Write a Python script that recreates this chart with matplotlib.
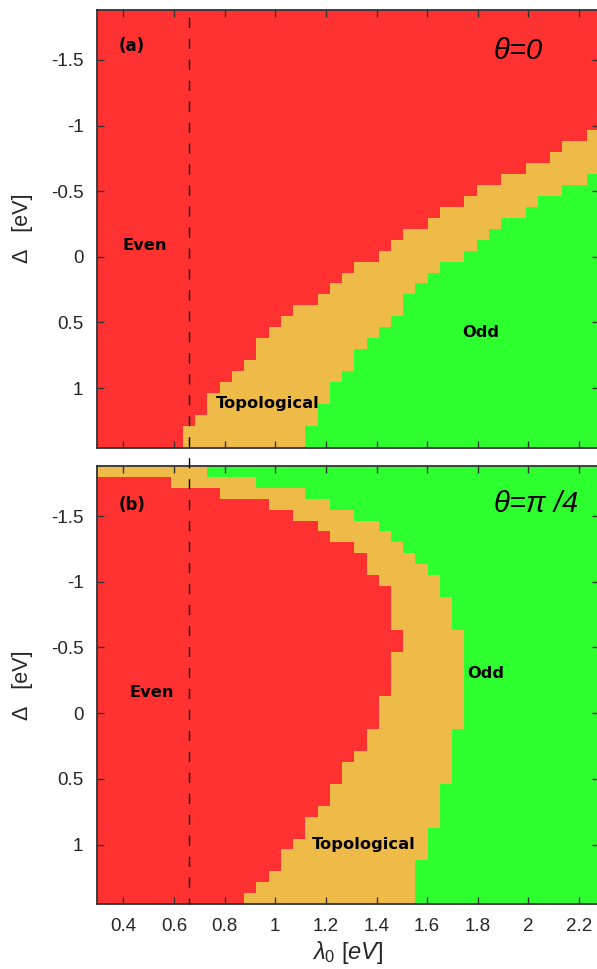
import numpy as np
import matplotlib
matplotlib.use("Agg")
import matplotlib.pyplot as plt
from matplotlib.colors import ListedColormap, BoundaryNorm
from matplotlib.lines import Line2D

# ---- grid of the phase scan ----
lam_edges = np.linspace(0.297, 2.279, 42)      # lambda_0 cell edges [eV], 41 columns
delta_edges = np.linspace(-1.883, 1.454, 41)   # Delta cell edges [eV], 40 rows

# For every Delta row (top to bottom): first lambda column of the topological
# phase and first column of the odd phase (41 = phase not reached).
topo_start_a = [41, 41, 41, 41, 41, 41, 41, 41, 41, 41,
                41, 40, 38, 37, 35, 33, 31, 30, 28, 27,
                25, 24, 23, 21, 20, 19, 18, 16, 15, 14,
                13, 13, 12, 11, 10, 9, 9, 8, 7, 7]
odd_start_a = [41, 41, 41, 41, 41, 41, 41, 41, 41, 41,
               41, 41, 41, 41, 41, 40, 38, 36, 35, 33,
               32, 31, 30, 28, 27, 26, 25, 25, 24, 23,
               22, 21, 21, 20, 19, 19, 18, 18, 17, 17]

topo_start_b = [0, 6, 10, 14, 16, 18, 19, 21, 22, 22,
                23, 24, 24, 24, 24, 25, 25, 24, 24, 24,
                24, 23, 23, 23, 22, 22, 21, 20, 20, 19,
                19, 18, 17, 17, 16, 15, 15, 14, 13, 12]
odd_start_b = [9, 13, 17, 19, 21, 23, 24, 25, 26, 27,
               28, 28, 29, 29, 29, 30, 30, 30, 30, 30,
               30, 30, 30, 30, 29, 29, 29, 29, 29, 28,
               28, 28, 28, 27, 27, 27, 26, 26, 26, 26]

phase_names = ["Even", "Topological", "Odd"]
phase_colors = ["#FF3131", "#EFBB48", "#2EFF2E"]

yticks = [-1.5, -1, -0.5, 0, 0.5, 1]
ytick_labels = ["-1.5", "-1", "-0.5", "0", "0.5", "1"]
xticks = [0.4, 0.6, 0.8, 1.0, 1.2, 1.4, 1.6, 1.8, 2.0, 2.2]
xtick_labels = ["0.4", "0.6", "0.8", "1", "1.2", "1.4", "1.6", "1.8", "2", "2.2"]

lam_dashed = 0.66   # reference lambda_0 value


def phase_map(topo_start, odd_start):
    ncol = len(lam_edges) - 1
    cols = np.arange(ncol)
    rows = []
    for t, o in zip(topo_start, odd_start):
        row = np.zeros(ncol, dtype=int)
        row[cols >= t] = 1
        row[cols >= o] = 2
        rows.append(row)
    return np.array(rows)


plt.rcParams["font.family"] = ["Liberation Sans", "DejaVu Sans"]
plt.rcParams["mathtext.fontset"] = "custom"
plt.rcParams["mathtext.it"] = "Liberation Sans:italic"
plt.rcParams["mathtext.rm"] = "Liberation Sans"

W, H = 597, 969
fig = plt.figure(figsize=(W / 100, H / 100), dpi=100)

left = 97.3 / W
width = (599.0 - 97.3) / W
ax_a = fig.add_axes([left, 1 - 447.7 / H, width, 438.0 / H])
ax_b = fig.add_axes([left, 1 - 904.3 / H, width, 438.6 / H])

cmap = ListedColormap(phase_colors)
norm = BoundaryNorm([-0.5, 0.5, 1.5, 2.5], cmap.N)

panels = [
    (ax_a, phase_map(topo_start_a, odd_start_a), "(a)", (0.434, -1.604),
     r"$\theta$=0", (1.96, -1.566),
     [("Even", 0.486, -0.09), ("Odd", 1.81, 0.58), ("Topological", 0.972, 1.12)]),
    (ax_b, phase_map(topo_start_b, odd_start_b), "(b)", (0.434, -1.584),
     r"$\theta$=π /4", (2.03, -1.591),
     [("Even", 0.513, -0.161), ("Odd", 1.832, -0.305), ("Topological", 1.351, 0.996)]),
]

spine_col = "#333333"
for ax, phases, tag, tag_xy, theta_txt, theta_xy, labels in panels:
    ax.pcolormesh(lam_edges, delta_edges, phases, cmap=cmap, norm=norm,
                  shading="flat", linewidth=0, antialiased=False, rasterized=True)
    ax.set_xlim(lam_edges[0], lam_edges[-1])
    ax.set_ylim(delta_edges[-1], delta_edges[0])
    ax.set_yticks(yticks)
    ax.set_yticklabels(ytick_labels)
    ax.set_xticks(xticks)
    ax.tick_params(direction="in", length=5, width=1.0, color=spine_col,
                   top=True, right=True, labelsize=13.5, labelcolor="#262626",
                   pad=10)
    for sp in ax.spines.values():
        sp.set_color(spine_col)
        sp.set_linewidth(1.3)
    ax.set_ylabel("Δ   [eV]", fontsize=15.5, color="#262626")
    ax.yaxis.set_label_coords(-0.128, 0.5)
    ax.text(*tag_xy, tag, fontsize=12, fontweight="bold",
            family="DejaVu Sans", ha="center", va="center")
    ax.text(*theta_xy, theta_txt, fontsize=21, style="italic",
            ha="center", va="center")
    for name, lx, ly in labels:
        ax.text(lx, ly, name, fontsize=11.7, fontweight="bold",
                family="DejaVu Sans", ha="center", va="center")

ax_a.set_xticklabels([])
ax_b.set_xticklabels(xtick_labels)
ax_b.set_xlabel(r"$\lambda_{\mathit{0}}\ [eV]$", fontsize=17, color="#262626")
ax_b.xaxis.set_label_coords(0.5, -0.078)

# dashed reference line running through both panels
fig.canvas.draw()
x_fig = fig.transFigure.inverted().transform(
    ax_a.transData.transform((lam_dashed, 0.0)))[0]
y_top = ax_a.get_position().y1
y_bot = ax_b.get_position().y0
fig.add_artist(Line2D([x_fig, x_fig], [y_bot, y_top], transform=fig.transFigure,
                      color="black", linewidth=1.0, linestyle=(3, (7.2, 7.9)),
                      zorder=10))

fig.savefig("out.png", dpi=100)
